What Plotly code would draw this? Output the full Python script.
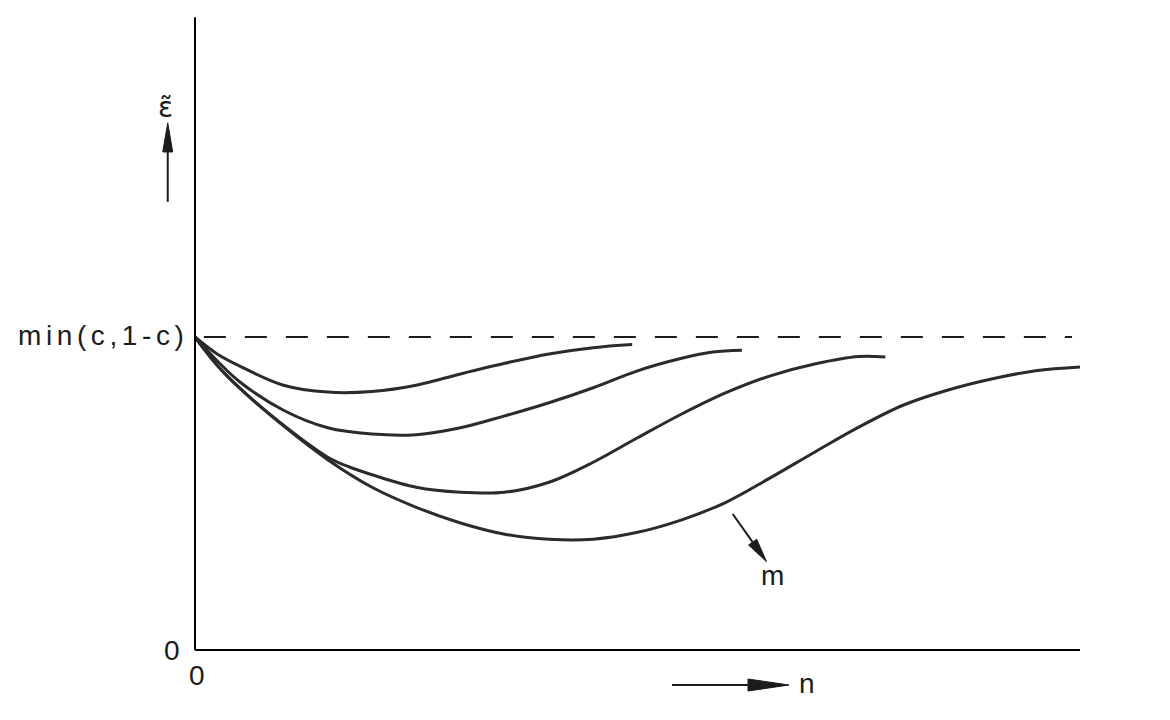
import plotly.graph_objects as go

# curves: n (abscissa, 0..10) and epsilon-tilde (ordinate, min(c,1-c) = 0.5)
n1 = [0, 0.25, 0.5, 1.0, 1.5, 2.0, 2.5, 3.0, 3.5, 4.0, 4.5, 4.94]
e1 = [0.500, 0.473, 0.454, 0.423, 0.412, 0.413, 0.423, 0.441, 0.458, 0.473, 0.483, 0.488]

n2 = [0, 0.25, 0.5, 1.0, 1.5, 2.0, 2.5, 3.0, 3.5, 4.0, 4.5, 5.0, 5.5, 5.85, 6.18]
e2 = [0.500, 0.462, 0.429, 0.383, 0.355, 0.345, 0.344, 0.355, 0.374, 0.395, 0.419, 0.446,
      0.466, 0.476, 0.479]

n3 = [0, 0.25, 0.5, 1.0, 1.5, 1.75, 2.0, 2.5, 3.0, 3.5, 4.0, 4.5, 5.0, 5.5, 6.0, 6.5,
      7.0, 7.5, 7.80]
e3 = [0.500, 0.455, 0.419, 0.359, 0.308, 0.292, 0.280, 0.260, 0.252, 0.252, 0.268, 0.300,
      0.339, 0.377, 0.411, 0.438, 0.457, 0.469, 0.468]

n4 = [0, 0.25, 0.5, 1.0, 1.5, 2.0, 2.5, 3.0, 3.5, 4.0, 4.5, 5.0, 5.5, 6.0, 6.5,
      7.0, 7.5, 8.0, 8.5, 9.0, 9.5, 10.0]
e4 = [0.500, 0.455, 0.419, 0.358, 0.304, 0.260, 0.228, 0.203, 0.185, 0.177, 0.177, 0.188,
      0.208, 0.236, 0.275, 0.316, 0.356, 0.391, 0.415, 0.433, 0.446, 0.452]

level = 0.5          # min(c,1-c)
n_max = 10.0
e_top = 1.011

# pixels per data unit (same in both directions on the page)
XS, YS = 88.5, 626.0

ink = "#1c1c1c"
curve_col = "#2b2b2b"
fam = "Liberation Sans, Arial, sans-serif"
font = dict(family=fam, size=28, color=ink)

fig = go.Figure()

fig.add_trace(go.Scatter(x=[0.1, 9.91], y=[level, level], mode="lines",
                         line=dict(color=ink, width=1.8, dash="22px,19px"),
                         hoverinfo="skip"))

for xs, ys in [(n1, e1), (n2, e2), (n3, e3), (n4, e4)]:
    fig.add_trace(go.Scatter(x=xs, y=ys, mode="lines",
                             line=dict(color=curve_col, width=3, shape="spline",
                                       smoothing=1.0, simplify=False),
                             hoverinfo="skip"))

# axes drawn as plain lines
fig.add_shape(type="line", x0=0, x1=0, y0=0, y1=e_top, line=dict(color="black", width=2))
fig.add_shape(type="line", x0=0, x1=n_max, y0=0, y1=0, line=dict(color="black", width=2))


def add_arrow(tail, tip, head_len, half_w):
    # slender filled head, worked out in page pixels then mapped back
    tx, ty = tail[0] * XS, tail[1] * YS
    hx, hy = tip[0] * XS, tip[1] * YS
    L = ((hx - tx) ** 2 + (hy - ty) ** 2) ** 0.5
    dx, dy = (hx - tx) / L, (hy - ty) / L
    bx, by = hx - dx * head_len, hy - dy * head_len
    p1 = ((bx - dy * half_w) / XS, (by + dx * half_w) / YS)
    p2 = ((bx + dy * half_w) / XS, (by - dx * half_w) / YS)
    fig.add_shape(type="line", x0=tail[0], y0=tail[1], x1=bx / XS, y1=by / YS,
                  line=dict(color=ink, width=2))
    fig.add_shape(type="path", fillcolor=ink, line=dict(color=ink, width=1),
                  path="M {},{} L {},{} L {},{} Z".format(tip[0], tip[1], p1[0], p1[1], p2[0], p2[1]))


add_arrow((-0.308, 0.716), (-0.308, 0.842), 29, 5)
add_arrow((5.39, -0.0559), (6.712, -0.0559), 41, 6)
add_arrow((6.076, 0.2173), (6.458, 0.1411), 24, 5)

texts = [
    dict(x=-0.055, y=0.503, text='<span style="letter-spacing:4.6px">min(c,1-c)</span>', xanchor="right"),
    dict(x=-0.26, y=0.0, text="0"),
    dict(x=0.023, y=-0.0415, text="0"),
    dict(x=6.915, y=-0.0527, text="n"),
    dict(x=6.52, y=0.1198, text="m"),
]
for t in texts:
    fig.add_annotation(showarrow=False, font=font, **t)

# epsilon with a combining tilde (DejaVu carries the combining mark)
fig.add_annotation(x=-0.328, y=0.867, text="ε\u0303", showarrow=False,
                   font=dict(family="DejaVu Sans", size=28, color=ink))

fig.update_layout(
    width=1162, height=712,
    margin=dict(l=0, r=0, t=0, b=0),
    plot_bgcolor="white", paper_bgcolor="white",
    showlegend=False,
    xaxis=dict(range=[-2.113, 11.017], visible=False, fixedrange=True),
    yaxis=dict(range=[-0.1118, 1.0256], visible=False, fixedrange=True),
)

fig.write_html("out.html")
